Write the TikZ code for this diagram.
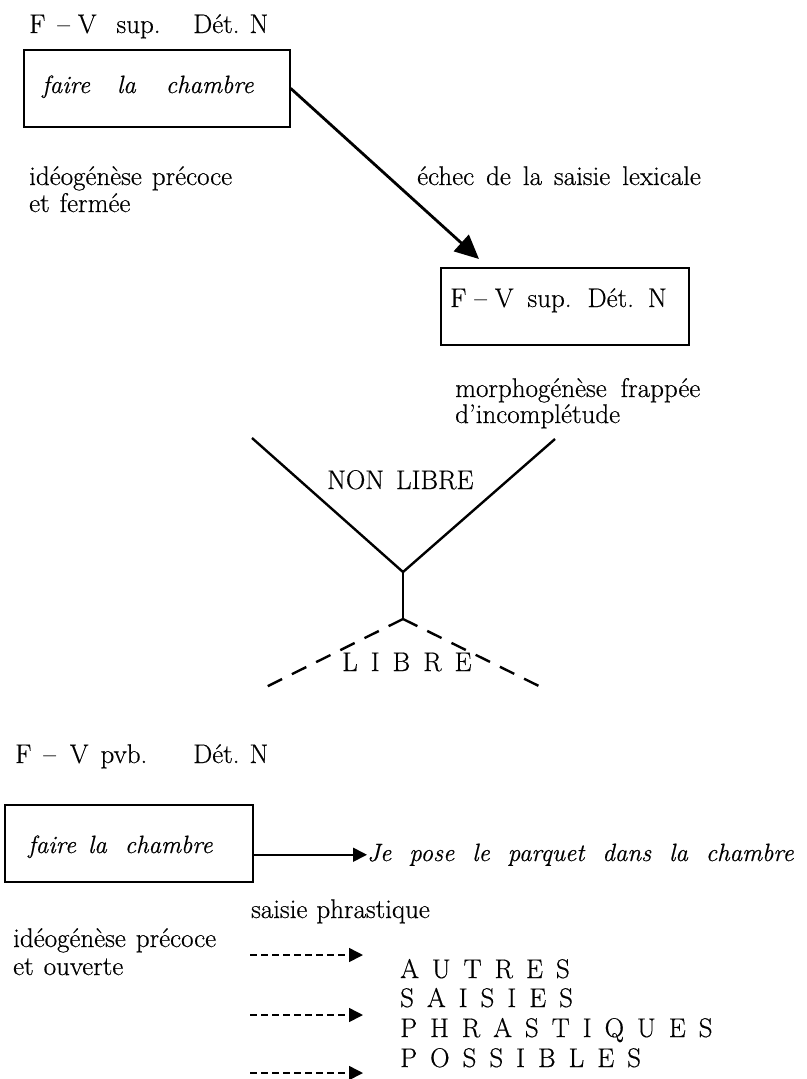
\documentclass[tikz,border=0pt]{standalone}
\usepackage{fontspec}
\setmainfont{Latin Modern Roman}[FakeBold=0.5]
\usetikzlibrary{arrows.meta}
\newcommand{\gap}[1]{\hspace{#1pt}}
\newcommand{\LS}{\hspace{13pt}}
\begin{document}
\begin{tikzpicture}[x=1pt,y=-1pt,
  font=\fontsize{27}{30}\selectfont,
  txt/.style={inner sep=0pt, anchor=base west},
  itxt/.style={inner sep=0pt, anchor=base west, font=\fontsize{25}{28}\selectfont\itshape},
  box/.style={draw, line width=1.6pt, inner sep=0pt, anchor=north west},
  bigtip/.style={-{Triangle[length=24pt,width=22pt]}},
  smalltip/.style={-{Triangle[length=14pt,width=14pt]}},
  dasharrow/.style={line width=1.6pt, dash pattern=on 7pt off 4pt, smalltip},
  bigdash/.style={line width=2.4pt, dash pattern=on 16pt off 11pt}]
\useasboundingbox (0,0) rectangle (806,1079);

% ---- upper part ----
\node[txt] (t1a) at (29,33) {F\gap{12}–\gap{8}V\gap{20}sup.};
\node[txt] (t1b) at (193,33) {Dét.\gap{10}N};
\node[box, minimum width=266pt, minimum height=77pt] (b1) at (23,49) {};
\node[itxt] (b1t) at (42,93) {faire\gap{27}la\gap{30}chambre};
\node[txt] (id1) at (29,185) {idéogénèse\gap{10}précoce};
\node[txt] (id2) at (29,212) {et\gap{10}fermée};
\node[txt] (ech) at (417,185) {échec\gap{12}de\gap{12}la\gap{12}saisie\gap{12}lexicale};
\node[box, minimum width=248pt, minimum height=77pt] (b2) at (440,267) {};
\node[txt] (b2t) at (450,307) {F\gap{8}–\gap{8}V\gap{14}sup.\gap{16}Dét.\gap{14}N};
\coordinate (tip1) at (479,259);
\draw[line width=2.8pt, bigtip] (b1.east) -- (tip1);

\node[txt] (mo1) at (455,397) {morphogénèse\gap{14}frappée};
\node[txt] (mo2) at (455,423) {d’incomplétude};

% ---- V ----
\coordinate (vL) at (252,438);
\coordinate (vB) at (403,572);
\coordinate (vR) at (555,439);
\coordinate (apex) at (403,619);
\coordinate (dL) at (260,690);
\coordinate (dR) at (547,690);
\node[txt] (nl) at (327,489) {NON\gap{12}LIBRE};
\node[txt] (lib) at (342,671) {L\LS I\LS B\LS R\LS E};
\draw[line width=2.4pt, miter limit=10] (vL) -- (vB) -- (vR);
\draw[line width=1.4pt] (vB) -- (apex);
\draw[bigdash] (apex) -- (dL);
\draw[bigdash] (apex) -- (dR);

% ---- lower part ----
\node[txt] (t2a) at (15,763) {F\gap{12}–\gap{14}V\gap{12}pvb.};
\node[txt] (t2b) at (193,763) {Dét.\gap{10}N};
\node[box, minimum width=248pt, minimum height=77pt] (b3) at (4,804) {};
\node[itxt] (b3t) at (28,853) {faire\gap{12}la\gap{18}chambre};
\node[itxt] (je) at (367,861) {Je\gap{18}pose\gap{18}le\gap{18}parquet\gap{18}dans\gap{18}la\gap{18}chambre};
\draw[line width=1.8pt, smalltip] (b3.east |- je.west) -- (je.west);

\node[txt] (sp) at (251,918) {saisie\gap{9}phrastique};
\node[txt] (id3) at (13,947) {idéogénèse\gap{10}précoce};
\node[txt] (id4) at (13,975) {et\gap{10}ouverte};

\coordinate (a1s) at (250,955);  \coordinate (a1e) at (363,955);
\coordinate (a2s) at (250,1015); \coordinate (a2e) at (363,1015);
\coordinate (a3s) at (250,1073); \coordinate (a3e) at (363,1073);
\draw[dasharrow] (a1s) -- (a1e);
\draw[dasharrow] (a2s) -- (a2e);
\draw[dasharrow] (a3s) -- (a3e);

\node[txt] (w1) at (400,978) {A\LS U\LS T\LS R\LS E\LS S};
\node[txt] (w2) at (400,1007) {S\LS A\LS I\LS S\LS I\LS E\LS S};
\node[txt] (w3) at (400,1037) {P\LS H\LS R\LS A\LS S\LS T\LS I\LS Q\LS U\LS E\LS S};
\node[txt] (w4) at (400,1067) {P\LS O\LS S\LS S\LS I\LS B\LS L\LS E\LS S};
\end{tikzpicture}
\end{document}
